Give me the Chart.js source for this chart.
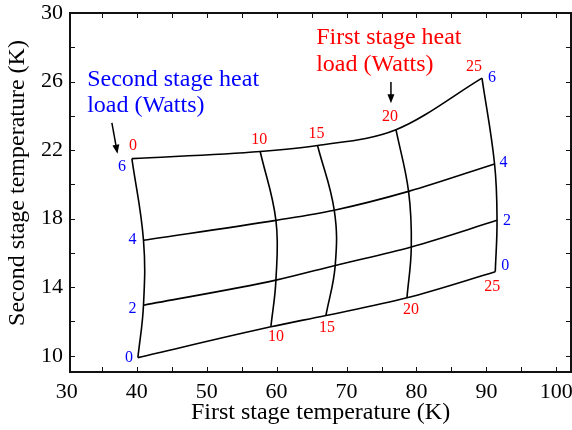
<!DOCTYPE html>
<html>
<head>
<meta charset="utf-8">
<script src="https://cdn.jsdelivr.net/npm/chart.js@4"></script>
<style>
body{margin:0;background:#fff;}
canvas{display:block;}
</style>
</head>
<body>
<canvas id="canvas" width="572" height="430"></canvas>
<script>
// heat loads (W)
const firstLoads=[0,10,15,20,25];
const secondLoads=[0,2,4,6];
// rows: second stage load 0,2,4,6 ; columns: first stage load 0,10,15,20,25
const firstTemp=[
    [40.16,59.18,67.05,78.64,91.27],
    [40.96,59.90,68.38,79.26,91.52],
    [40.96,59.90,68.24,78.87,91.17],
    [39.30,57.65,65.85,77.07,89.37]
];
const secondTemp=[
    [9.89,11.69,12.35,13.38,14.90],
    [12.95,14.41,15.27,16.35,17.90],
    [16.74,17.90,18.49,19.59,21.19],
    [21.50,21.92,22.27,23.19,26.20]
];
const xTicks=[30,35,40,45,50,55,60,65,70,75,80,85,90,95,100];
const yTicks=[10,12,14,16,18,20,22,24,26,28,30];
const xLabels=[30,40,50,60,70,80,90,100];
const yLabels=[10,14,18,22,26,30];

const SERIF="'Liberation Serif','Times New Roman',serif";

let datasets=[];
// constant second stage load lines
secondLoads.forEach((q,i)=>{
    datasets.push({
        label:"Q2 "+q+" W",
        cubicInterpolationMode:"monotone",
        data:firstLoads.map((p,j)=>({x:firstTemp[i][j],y:secondTemp[i][j]}))
    });
});
// constant first stage load lines
firstLoads.forEach((p,j)=>{
    datasets.push({
        label:"Q1 "+p+" W",
        tension:0.4,
        data:secondLoads.map((q,i)=>({x:firstTemp[i][j],y:secondTemp[i][j]}))
    });
});
datasets.forEach(d=>{
    d.showLine=true;
    d.borderColor="#000";
    d.borderWidth=1.6;
    d.pointRadius=0;
    d.fill=false;
});

// label offsets in px from the grid node
const topOff=[[1,-13],[-1,-12],[-1,-12],[-6,-13],[-8,-11]];
const botOff=[null,[5,10],[1,12],[4,12],[-3,15]];
const leftOff=[[-9,0],[-11,4],[-11,0],[-10,8]];
const rightOff=[[10,-6],[10,0],[9,-1],[10,0]];

function arrow(ctx,x1,y1,x2,y2){
    const a=Math.atan2(y2-y1,x2-x1);
    ctx.beginPath();
    ctx.moveTo(x1,y1);
    ctx.lineTo(x2-6*Math.cos(a),y2-6*Math.sin(a));
    ctx.stroke();
    ctx.beginPath();
    ctx.moveTo(x2,y2);
    ctx.lineTo(x2-9*Math.cos(a)+3.5*Math.sin(a),y2-9*Math.sin(a)-3.5*Math.cos(a));
    ctx.lineTo(x2-9*Math.cos(a)-3.5*Math.sin(a),y2-9*Math.sin(a)+3.5*Math.cos(a));
    ctx.closePath();
    ctx.fill();
}

const decor={
    id:"decor",
    afterDraw(chart){
        const ctx=chart.ctx;
        const xs=chart.scales.x,ys=chart.scales.y;
        const a=chart.chartArea;
        const px=v=>xs.getPixelForValue(v),py=v=>ys.getPixelForValue(v);
        ctx.save();
        // frame + inward ticks
        ctx.strokeStyle="#111";
        ctx.lineWidth=2;
        ctx.strokeRect(a.left,a.top,a.right-a.left,a.bottom-a.top);
        ctx.lineWidth=1;
        ctx.beginPath();
        xTicks.filter(v=>v>xs.min).forEach(v=>{
            const x=Math.round(px(v))+0.5;
            ctx.moveTo(x,a.bottom);ctx.lineTo(x,a.bottom-5);
            ctx.moveTo(x,a.top);ctx.lineTo(x,a.top+5);
        });
        yTicks.forEach(v=>{
            const y=Math.round(py(v))+0.5;
            ctx.moveTo(a.left,y);ctx.lineTo(a.left+5,y);
            ctx.moveTo(a.right,y);ctx.lineTo(a.right-5,y);
        });
        ctx.stroke();
        // y title
        ctx.fillStyle="#000";
        ctx.font="24px "+SERIF;
        ctx.textAlign="center";
        ctx.textBaseline="middle";
        ctx.translate(18,183);
        ctx.rotate(-Math.PI/2);
        ctx.fillText("Second stage temperature (K)",0,0);
        ctx.restore();

        ctx.save();
        ctx.font="16px "+SERIF;
        ctx.textAlign="center";
        ctx.textBaseline="middle";
        ctx.fillStyle="red";
        firstLoads.forEach((p,j)=>{
            const o=topOff[j];
            ctx.fillText(p,px(firstTemp[3][j])+o[0],py(secondTemp[3][j])+o[1]);
            const b=botOff[j];
            if(b){
                ctx.fillText(p,px(firstTemp[0][j])+b[0],py(secondTemp[0][j])+b[1]);
            }
        });
        ctx.fillStyle="blue";
        secondLoads.forEach((q,i)=>{
            const l=leftOff[i],r=rightOff[i];
            ctx.fillText(q,px(firstTemp[i][0])+l[0],py(secondTemp[i][0])+l[1]);
            ctx.fillText(q,px(firstTemp[i][4])+r[0],py(secondTemp[i][4])+r[1]);
        });
        // annotations
        ctx.font="24px "+SERIF;
        ctx.textAlign="left";
        ctx.fillStyle="blue";
        ctx.fillText("Second stage heat",px(32.9),py(26.1));
        ctx.fillText("load (Watts)",px(32.9),py(24.58));
        ctx.fillStyle="red";
        ctx.fillText("First stage heat",px(65.66),py(28.54));
        ctx.fillText("load (Watts)",px(65.66),py(26.97));
        ctx.strokeStyle="#000";
        ctx.fillStyle="#000";
        ctx.lineWidth=1.5;
        arrow(ctx,px(36.44),py(23.59),px(37.24),py(21.79));
        arrow(ctx,px(76.35),py(25.98),px(76.35),py(24.73));
        ctx.restore();
    }
};

new Chart(document.getElementById("canvas"),{
    type:"scatter",
    data:{datasets:datasets},
    options:{
        responsive:false,
        animation:false,
        layout:{padding:{top:13,right:1,left:0,bottom:0}},
        plugins:{legend:{display:false},tooltip:{enabled:false}},
        scales:{
            x:{
                type:"linear",
                min:30.45,max:102.1,
                afterBuildTicks:s=>{s.ticks=xTicks.map(v=>({value:v}));},
                afterFit:s=>{s.height=58;s.paddingLeft=0;s.paddingRight=0;},
                grid:{display:false,drawTicks:false},
                border:{display:false},
                ticks:{
                    autoSkip:false,maxRotation:0,padding:7,color:"#000",
                    font:{family:SERIF,size:22},
                    callback:v=>xLabels.includes(v)?String(v):""
                },
                title:{
                    display:true,text:"First stage temperature (K)",color:"#000",
                    font:{family:SERIF,size:24},padding:{top:0,bottom:3}
                }
            },
            y:{
                type:"linear",
                min:9.05,max:30,
                afterBuildTicks:s=>{s.ticks=yTicks.map(v=>({value:v}));},
                afterFit:s=>{s.width=70;s.paddingTop=0;s.paddingBottom=0;},
                grid:{display:false,drawTicks:false},
                border:{display:false},
                ticks:{
                    autoSkip:false,padding:7,color:"#000",
                    font:{family:SERIF,size:22},
                    callback:v=>yLabels.includes(v)?String(v):""
                }
            }
        }
    },
    plugins:[decor]
});
</script>
</body>
</html>
